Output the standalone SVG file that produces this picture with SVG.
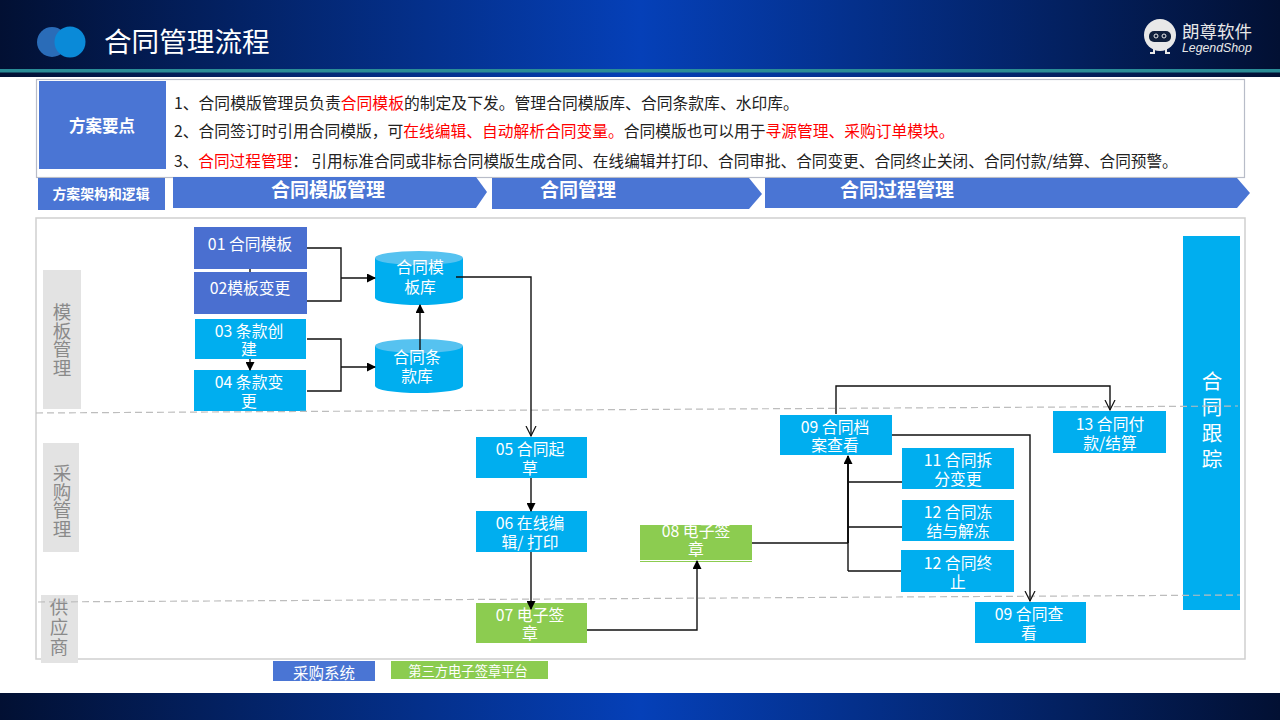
<svg xmlns="http://www.w3.org/2000/svg" width="1280" height="720" viewBox="0 0 1280 720">
<style>
text{font-family:"Noto Sans CJK SC","Noto Sans",sans-serif}
.n{font-size:15.800px;fill:#fff;text-anchor:middle}
.l{fill:#222}
.r{fill:#f00}
.h{font-size:19px;font-weight:700;fill:#fff;text-anchor:middle}
.s{font-size:18.500px;fill:#8a8a8a;text-anchor:middle}
.c{fill:none;stroke:#111;stroke-width:1.400}
.d{stroke:#bdbdbd;stroke-width:1.200;stroke-dasharray:7 4;fill:none}
.blue{fill:#4a75d4}.sky{fill:#00aeef}.green{fill:#8ccc50}.g{fill:#e3e3e3}
.nb{fill:#4a6fd0}
.top{fill:#56c2f0}
</style>
<defs>
<linearGradient id="bg" x1="0" x2="1" y1="0" y2="0"><stop offset="0" stop-color="#021033"/><stop offset=".5" stop-color="#0540b8"/><stop offset="1" stop-color="#021033"/></linearGradient>
<marker id="a" markerWidth="9" markerHeight="9" refX="8" refY="4.500" orient="auto" markerUnits="userSpaceOnUse"><path d="M0 0L9 4.500L0 9z" fill="#000"/></marker>
<marker id="o" markerWidth="12" markerHeight="12" refX="10" refY="6" orient="auto" markerUnits="userSpaceOnUse"><path d="M0 1L10 6L0 11" fill="none" stroke="#111" stroke-width="1.200"/></marker>
</defs>
<rect width="1280" height="720" fill="#fff"/>
<g id="header">
<rect width="1280" height="77" fill="url(#bg)"/>
<rect y="69" width="1280" height="3.500" fill="#2a8c96"/>
<circle cx="52" cy="42" r="15" fill="#2a6cb8"/>
<circle cx="70" cy="42" r="15.500" fill="#0a8ad8"/>
<text x="104" y="52" style="font-size:27.600px" fill="#fff">合同管理流程</text>
<g id="logo">
<circle cx="1160" cy="35" r="16" fill="#e8e8e8"/>
<path d="M1154 49V53H1150M1166 49V53H1170" fill="none" stroke="#e8e8e8" stroke-width="2"/>
<rect x="1149" y="31" width="22" height="11" rx="5" fill="#10203c"/>
<circle cx="1156" cy="36" r="2" fill="none" stroke="#e8e8e8"/><circle cx="1164" cy="36" r="2" fill="none" stroke="#e8e8e8"/>
<text x="1182" y="38" style="font-size:17.500px" fill="#e8e8e8">朗尊软件</text>
<text x="1182" y="52" fill="#e8e8e8" font-style="italic" style="font-size:12.300px;font-family:'Liberation Sans',sans-serif">LegendShop</text>
</g>
</g>
<g id="footer"><rect y="693" width="1280" height="27" fill="url(#bg)"/></g>
<g id="summary">
<rect x="36.500" y="79.500" width="1208" height="98" fill="#fff" stroke="#b8bcc8" stroke-width="1.200"/>
<rect x="39" y="81" width="127" height="88" class="blue"/>
<text x="102" y="132" text-anchor="middle" style="font-size:16.500px;font-weight:700;fill:#fff">方案要点</text>
<text x="174" y="109" class="l" style="font-size:15.800px">1、合同模版管理员负责<tspan class="r">合同模板</tspan>的制定及下发。管理合同模版库、合同条款库、水印库。</text>
<text x="174" y="137" class="l" style="font-size:15.750px">2、合同签订时引用合同模版，可<tspan class="r">在线编辑、自动解析合同变量。</tspan>合同模版也可以用于<tspan class="r">寻源管理、采购订单模块。</tspan></text>
<text x="174" y="167" class="l" style="font-size:15.650px">3、<tspan class="r">合同过程管理</tspan>： 引用标准合同或非标合同模版生成合同、在线编辑并打印、合同审批、合同变更、合同终止关闭、合同付款/结算、合同预警。</text>
</g>
<g id="phase-bar">
<rect x="38" y="178" width="127" height="32" class="blue"/>
<text x="101" y="199" text-anchor="middle" style="font-size:13.900px;font-weight:700;fill:#fff">方案架构和逻辑</text>
<path d="M173 177H476L487 192L476 208H173z" class="blue"/>
<text x="328" y="197" class="h">合同模版管理</text>
<path d="M492 178H749L762 194L749 209H492z" class="blue"/>
<text x="578" y="197" class="h">合同管理</text>
<path d="M765 178H1237L1250 193L1237 208H765z" class="blue"/>
<text x="897" y="197" class="h">合同过程管理</text>
</g>
<rect id="frame" x="36" y="218" width="1209" height="441" fill="#fff" stroke="#cfcfcf" stroke-width="1.500"/>
<g id="lanes">
<g id="lane1"><rect x="43" y="270" width="38" height="139" class="g"/><text class="s"><tspan x="62" y="319">模</tspan><tspan x="62" dy="18.700">板</tspan><tspan x="62" dy="18.700">管</tspan><tspan x="62" dy="18.700">理</tspan></text></g>
<g id="lane2"><rect x="43" y="443" width="36" height="109" class="g"/><text class="s"><tspan x="62" y="480">采</tspan><tspan x="62" dy="18.700">购</tspan><tspan x="62" dy="18.700">管</tspan><tspan x="62" dy="18.700">理</tspan></text></g>
<g id="lane3"><rect x="41" y="595" width="37" height="68" class="g"/><text class="s"><tspan x="59" y="614">供</tspan><tspan x="59" dy="20">应</tspan><tspan x="59" dy="20">商</tspan></text></g>
</g>
<g id="n01"><rect x="194" y="227" width="113" height="42" class="nb"/><text class="n" x="250" y="250">01 合同模板</text></g>
<g id="n02"><rect x="194" y="272" width="113" height="42" class="nb"/><text class="n" x="250" y="294">02模板变更</text></g>
<g id="n03"><rect x="195" y="319" width="111" height="40" class="sky"/><text class="n"><tspan x="249" y="337">03 条款创</tspan><tspan x="249" dy="18">建</tspan></text></g>
<g id="n04"><rect x="194" y="370" width="112" height="41" class="sky"/><text class="n"><tspan x="249" y="388">04 条款变</tspan><tspan x="249" dy="18.500">更</tspan></text></g>
<g id="db1"><path d="M375 258V298A44 7 0 0 0 463 298V258z" class="sky"/><ellipse cx="419" cy="258" rx="44" ry="7" class="top"/><text class="n"><tspan x="420" y="273">合同模</tspan><tspan x="420" dy="20">板库</tspan></text></g>
<g id="db2"><path d="M375 346V386A44 7 0 0 0 463 386V346z" class="sky"/><ellipse cx="419" cy="346" rx="44" ry="7" class="top"/><text class="n"><tspan x="417" y="363">合同条</tspan><tspan x="417" dy="19">款库</tspan></text></g>
<g id="n05"><rect x="476" y="437" width="111" height="41" class="sky"/><text class="n"><tspan x="530" y="455">05 合同起</tspan><tspan x="530" dy="18.500">草</tspan></text></g>
<g id="n06"><rect x="476" y="511" width="111" height="41" class="sky"/><text class="n"><tspan x="530" y="529">06 在线编</tspan><tspan x="530" dy="18.500">辑/ 打印</tspan></text></g>
<g id="n07"><rect x="476" y="603" width="111" height="40" class="green"/><text class="n"><tspan x="530" y="621">07 电子签</tspan><tspan x="530" dy="18">章</tspan></text></g>
<g id="n08"><rect x="640" y="525" width="112" height="35" class="green"/><rect x="640" y="561" width="112" height="1" class="green"/><text class="n"><tspan x="696" y="537">08 电子签</tspan><tspan x="696" dy="17.500">章</tspan></text></g>
<g id="n09a"><rect x="780" y="415" width="112" height="40" class="sky"/><text class="n"><tspan x="835" y="433">09 合同档</tspan><tspan x="835" dy="18">案查看</tspan></text></g>
<g id="n11"><rect x="902" y="448" width="112" height="41" class="sky"/><text class="n"><tspan x="958" y="466">11 合同拆</tspan><tspan x="958" dy="19">分变更</tspan></text></g>
<g id="n12a"><rect x="902" y="500" width="112" height="41" class="sky"/><text class="n"><tspan x="958" y="518">12 合同冻</tspan><tspan x="958" dy="19">结与解冻</tspan></text></g>
<g id="n12b"><rect x="901" y="550" width="113" height="42" class="sky"/><text class="n"><tspan x="958" y="569">12 合同终</tspan><tspan x="958" dy="18.500">止</tspan></text></g>
<g id="n09b"><rect x="975" y="602" width="111" height="41" class="sky"/><text class="n"><tspan x="1029" y="620">09 合同查</tspan><tspan x="1029" dy="18.500">看</tspan></text></g>
<g id="n13"><rect x="1053" y="411" width="113" height="42" class="sky"/><text class="n"><tspan x="1110" y="430">13 合同付</tspan><tspan x="1110" dy="19">款/结算</tspan></text></g>
<g id="track"><rect x="1183" y="236" width="57" height="374" class="sky"/><text style="font-size:20.500px;fill:#fff;text-anchor:middle"><tspan x="1212" y="389">合</tspan><tspan x="1212" dy="26">同</tspan><tspan x="1212" dy="26">跟</tspan><tspan x="1212" dy="26">踪</tspan></text></g>
<g id="dashes">
<path class="d" d="M36 413L1238 406"/>
<path class="d" d="M38 602L1240 595"/>
</g>
<g id="connectors">
<path class="c" d="M307 248H341V301H307"/>
<path class="c" d="M341 278H375" marker-end="url(#a)"/>
<path class="c" d="M307 339H341V391H307"/>
<path class="c" d="M341 367H375" marker-end="url(#a)"/>
<path class="c" d="M250 359V370" marker-end="url(#a)"/>
<path class="c" d="M250 269V272"/>
<path class="c" d="M420 350V305" marker-end="url(#a)"/>
<path class="c" d="M456 277H531V436" marker-end="url(#o)"/>
<path class="c" d="M531 478V511" marker-end="url(#a)"/>
<path class="c" d="M531 552V609" marker-end="url(#a)"/>
<path class="c" d="M587 630H697V561" marker-end="url(#a)"/>
<path class="c" d="M752 543H848"/>
<path class="c" d="M848 571V543"/>
<path class="c" style="stroke-width:2" d="M848 543V456" marker-end="url(#a)"/>
<path class="c" d="M902 482H848M902 527H848M901 571H848"/>
<path class="c" d="M836 414V386H1110V410" marker-end="url(#o)"/>
<path class="c" d="M892 435H1030V601" marker-end="url(#o)"/>
</g>
<g id="legend">
<rect x="273" y="661" width="102" height="20" class="blue"/>
<text x="324" y="679" style="font-size:15.500px;fill:#fff;text-anchor:middle">采购系统</text>
<rect x="391" y="661" width="157" height="18" class="green"/>
<text x="468" y="676" style="font-size:13.300px;fill:#fff;text-anchor:middle">第三方电子签章平台</text>
</g>
</svg>
